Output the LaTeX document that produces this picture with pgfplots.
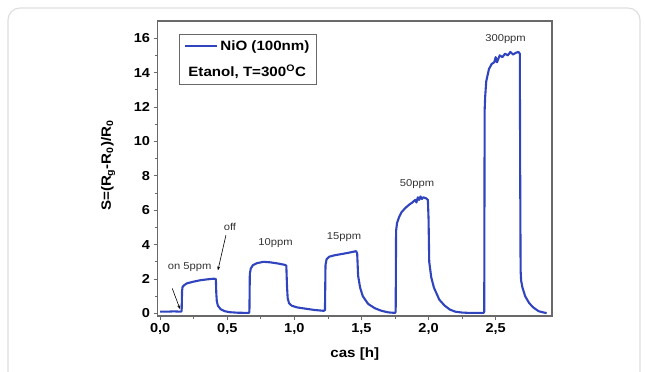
\documentclass[border=0pt]{standalone}
\usepackage{fontspec}
\setmainfont{Liberation Sans}[FakeStretch=1.12]
\usepackage{pgfplots}
\pgfplotsset{compat=1.18}
\usetikzlibrary{arrows.meta}
\definecolor{curve}{RGB}{48,68,190}
\definecolor{axgray}{RGB}{105,105,105}
\begin{document}
\begin{tikzpicture}[x=1pt,y=1pt]
\path[use as bounding box] (0,0) rectangle (645,372);
\draw[gray!25, line width=1.2pt, rounded corners=12pt] (8,0) -- (8,364) -- (640,364) -- (640,0);
\begin{axis}[
  at={(157.5pt,56pt)}, anchor=south west, scale only axis,
  width=394.5pt, height=295pt,
  xmin=-0.02, xmax=2.92, ymin=-0.15, ymax=17,
  xtick={0,0.5,...,2.5}, ytick={0,2,...,16},
  minor x tick num=1, minor y tick num=1,
  xtick pos=left, ytick pos=left,
  tick align=outside,
  major tick length=4pt, minor tick length=2.5pt,
  tick style={axgray, line width=0.8pt},
  axis line style={axgray, line width=1.1pt},
  /pgf/number format/assume math mode=true,
  ticklabel style={font=\fontsize{13}{15}\selectfont\bfseries},
  x tick label style={/pgf/number format/.cd, fixed, fixed zerofill, precision=1, use comma},
  xlabel={cas [h]},
  ylabel={S=(R\textsubscript{g}-R\textsubscript{0})/R\textsubscript{0}},
  label style={font=\fontsize{13.5}{16}\selectfont\bfseries},
  xlabel style={at={(axis description cs:0.5,-0.13)}, anchor=center},
  ylabel style={at={(axis description cs:-0.125,0.51)}, anchor=center},
  legend style={at={(rel axis cs:0.0545,0.956)}, anchor=north west,
    draw=axgray, line width=0.8pt, font=\fontsize{13.5}{15}\selectfont\bfseries,
    inner xsep=5pt, inner ysep=4pt, row sep=9pt},
  legend cell align=left,
  legend image code/.code={\draw[#1, line width=2pt] (0pt,0pt) -- (32pt,0pt);},
]
\addplot[curve, line width=2.1pt, line join=round] coordinates {
(0,0.1) (0.05,0.1) (0.1,0.12) (0.155,0.1) (0.16,0.15) (0.163,1.3) (0.167,1.55) (0.18,1.65) (0.2,1.75) (0.25,1.85) (0.3,1.93) (0.35,1.98) (0.4,2.02) (0.415,2.0) (0.418,1.2) (0.422,0.7) (0.43,0.45) (0.45,0.25) (0.48,0.13) (0.52,0.07) (0.58,0.04) (0.66,0.03)
(0.665,0.1) (0.668,2.3) (0.675,2.6) (0.69,2.8) (0.72,2.92) (0.77,3.0) (0.82,2.97) (0.88,2.9) (0.93,2.82) (0.94,2.78) (0.945,1.6) (0.95,0.9) (0.96,0.6) (0.98,0.45) (1.02,0.35) (1.08,0.28) (1.15,0.2) (1.22,0.15)
(1.228,0.2) (1.232,2.8) (1.24,3.15) (1.26,3.3) (1.3,3.38) (1.35,3.45) (1.4,3.52) (1.46,3.62) (1.468,3.5) (1.475,2.2) (1.49,1.5) (1.51,1.0) (1.55,0.55) (1.6,0.3) (1.65,0.15) (1.7,0.06) (1.75,0.03)
(1.755,0.1) (1.758,4.8) (1.765,5.25) (1.78,5.6) (1.8,5.9) (1.83,6.15) (1.86,6.35) (1.88,6.45) (1.9,6.6) (1.91,6.45) (1.92,6.75) (1.93,6.6) (1.94,6.8) (1.95,6.65) (1.96,6.75) (1.98,6.7) (1.995,6.6) (2.0,5.5) (2.005,3.0) (2.02,2.1) (2.04,1.5) (2.08,0.8) (2.12,0.45) (2.16,0.22) (2.2,0.1) (2.25,0.05) (2.3,0.03) (2.41,0.03)
(2.415,0.1) (2.418,11.8) (2.422,12.6) (2.43,13.5) (2.45,14.2) (2.47,14.5) (2.49,14.6) (2.5,14.9) (2.51,14.6) (2.53,15.0) (2.55,14.9) (2.57,15.1) (2.59,15.0) (2.61,15.2) (2.63,15.05) (2.65,15.15) (2.67,15.2) (2.68,15.1) (2.683,8) (2.686,2.5) (2.69,1.9) (2.7,1.5) (2.72,1.0) (2.75,0.6) (2.78,0.35) (2.82,0.13) (2.86,0.05) (2.88,0.02)
};
\addlegendentry{NiO (100nm)}
\addlegendimage{empty legend}
\addlegendentry{\hspace*{-32pt}Etanol, T=300\textsuperscript{O}C}
\begin{scope}[every node/.style={font=\fontsize{10}{12}\selectfont, inner sep=1pt, text=black!80}]
\node at (axis cs:0.22,2.67) {on 5ppm};
\node at (axis cs:0.52,5.0) {off};
\node at (axis cs:0.86,4.12) {10ppm};
\node at (axis cs:1.37,4.46) {15ppm};
\node at (axis cs:1.914,7.54) {50ppm};
\node at (axis cs:2.574,15.94) {300ppm};
\end{scope}
\draw[-{Stealth[length=4pt,width=3pt]}, line width=0.6pt] (axis cs:0.09,1.45) -- (axis cs:0.148,0.25);
\draw[-{Stealth[length=4pt,width=3pt]}, line width=0.6pt] (axis cs:0.49,4.55) -- (axis cs:0.43,2.5);
\end{axis}
\end{tikzpicture}
\end{document}
